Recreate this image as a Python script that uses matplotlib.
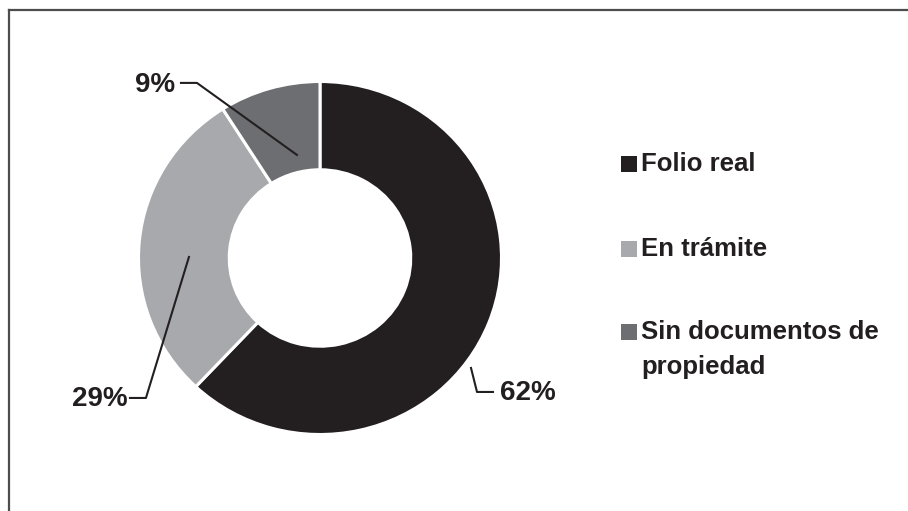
import matplotlib
matplotlib.use("Agg")
import matplotlib.pyplot as plt
from matplotlib.patches import Rectangle

categories = ["Folio real", "En trámite", "Sin documentos de\npropiedad"]
values = [62, 29, 9]
pct_labels = ["62%", "29%", "9%"]
colors = ["#231f20", "#a7a9ac", "#6d6e71"]

plt.rcParams["font.family"] = ["Liberation Sans", "DejaVu Sans"]
plt.rcParams["font.weight"] = "bold"

W, H = 908, 511
fig = plt.figure(figsize=(W / 100, H / 100), dpi=100)

# outer frame (only top and left edges visible in the reference)
fig.add_artist(plt.Line2D([9 / W, 9 / W], [0, 1 - 10 / H], transform=fig.transFigure,
                          color="#4d4d4d", lw=1.6))
fig.add_artist(plt.Line2D([9 / W, 1], [1 - 10 / H, 1 - 10 / H], transform=fig.transFigure,
                          color="#4d4d4d", lw=1.6))

# donut axes, centred at (320, 258) px
cx, cy, rx, ry = 320, 258, 181.5, 176.5
ax = fig.add_axes([(cx - rx) / W, (H - cy - ry) / H, 2 * rx / W, 2 * ry / H])
wedges, _ = ax.pie(values, colors=colors, startangle=90, counterclock=False,
                   radius=1, wedgeprops=dict(width=0.5, edgecolor="white", linewidth=2.2))
ax.set_aspect("auto")
ax.set_xlim(-1, 1)
ax.set_ylim(-1, 1)
ax.axis("off")

# leader lines (pie data coordinates) and label anchors
leaders = [
    [(0.832, -0.623), (0.865, -0.759), (0.953, -0.759)],
    [(-0.722, 0.006), (-0.959, -0.793), (-1.047, -0.793)],
    [(-0.127, 0.584), (-0.678, 0.992), (-0.766, 0.992)],
]
label_pos = [(0.99, -0.765, "left"), (-1.06, -0.80, "right"), (-0.80, 0.98, "right")]

for pts, (lx, ly, ha), txt in zip(leaders, label_pos, pct_labels):
    xs, ys = zip(*pts)
    ax.plot(xs, ys, color="#231f20", lw=1.5, clip_on=False)
    ax.text(lx, ly, txt, ha=ha, va="center", fontsize=20, fontweight="bold",
            color="#231f20", clip_on=False)

# legend
leg_y = [164, 249, 332]
for cat, col, y in zip(categories, colors, leg_y):
    fig.add_artist(Rectangle((621 / W, 1 - (y + 8) / H), 16 / W, 16 / H,
                             transform=fig.transFigure, color=col, lw=0))
    lines = cat.split("\n")
    for i, line in enumerate(lines):
        fig.text(641 / W, 1 - (y + 35 * i) / H, line, ha="left", va="center",
                 fontsize=18.5, fontweight="bold", color="#231f20")

fig.savefig("out.png", dpi=100)
